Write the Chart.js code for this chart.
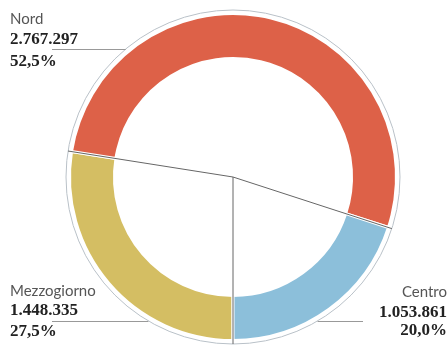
<!DOCTYPE html>
<html>
<head>
<meta charset="utf-8">
<script src="https://cdn.jsdelivr.net/npm/chart.js@4/dist/chart.umd.min.js"></script>
<style>
  html, body { margin: 0; padding: 0; background: #fff; }
  canvas { display: block; }
</style>
</head>
<body>
<canvas id="ring" width="448" height="345"></canvas>
<script>
// order follows the ring clockwise from the bottom
const areas = ['Mezzogiorno', 'Nord', 'Centro']
const counts = [1448335, 2767297, 1053861]
const shares = [27.5, 52.5, 20.0]
const colors = ['#d4be63', '#dd6148', '#8cbfda']

// label blocks: anchor x, alignment, y of the three lines, y of the leader line
const labelPos = [
  {x: 10, align: 'left', ys: [291, 311, 332], lineY: 321},
  {x: 10, align: 'left', ys: [19, 40, 62], lineY: 49},
  {x: 447, align: 'right', ys: [292, 313, 331], lineY: 321}
]

function fmtInt(n) {
  return String(n).replace(/\B(?=(\d{3})+(?!\d))/g, '.')
}
function fmtPct(p) {
  return p.toFixed(1).replace('.', ',') + '%'
}

const ringDecor = {
  id: 'ringDecor',
  beforeDatasetsDraw(chart) {
    const arc = chart.getDatasetMeta(0).data[0]
    const ctx = chart.ctx
    ctx.save()
    ctx.strokeStyle = '#b9c1c8'
    ctx.lineWidth = 1
    ctx.beginPath()
    ctx.arc(arc.x, arc.y, arc.outerRadius + 3.5, 0, Math.PI * 2)
    ctx.stroke()
    ctx.restore()
  },
  afterDatasetsDraw(chart) {
    const meta = chart.getDatasetMeta(0)
    const ctx = chart.ctx
    const cx = meta.data[0].x, cy = meta.data[0].y
    const rOut = meta.data[0].outerRadius + 3.5
    ctx.save()
    // spokes from the centre along each boundary
    ctx.strokeStyle = '#666'
    ctx.lineWidth = 1
    meta.data.forEach(a => {
      ctx.beginPath()
      ctx.moveTo(cx, cy)
      ctx.lineTo(cx + rOut * Math.cos(a.startAngle), cy + rOut * Math.sin(a.startAngle))
      ctx.stroke()
    })
    // leader lines and labels
    ctx.strokeStyle = '#999'
    labelPos.forEach((p, i) => {
      const dy = p.lineY - cy
      const dx = Math.sqrt(Math.max(rOut * rOut - dy * dy, 0))
      const edgeX = p.align === 'left' ? cx - dx : cx + dx
      const startX = p.align === 'left' ? p.x + 42 : p.x - 84
      ctx.beginPath()
      ctx.moveTo(startX, p.lineY + 0.5)
      ctx.lineTo(edgeX, p.lineY + 0.5)
      ctx.stroke()

      ctx.textAlign = p.align
      ctx.textBaseline = 'middle'
      ctx.fillStyle = '#555'
      ctx.font = '15px Lato'
      ctx.fillText(areas[i], p.x, p.ys[0])
      ctx.fillStyle = '#222'
      ctx.font = 'bold 17px "Liberation Serif"'
      ctx.fillText(fmtInt(counts[i]), p.x, p.ys[1])
      ctx.fillText(fmtPct(shares[i]), p.x, p.ys[2])
    })
    ctx.restore()
  }
}

new Chart(document.getElementById('ring'), {
  type: 'doughnut',
  data: {
    labels: areas,
    datasets: [{
      data: counts,
      backgroundColor: colors,
      borderColor: '#ffffff',
      borderWidth: 3,
      hoverOffset: 0
    }]
  },
  options: {
    responsive: false,
    animation: false,
    rotation: 180,
    cutout: '72.5%',
    layout: {
      padding: {left: 68, right: 50, top: 12, bottom: 3}
    },
    plugins: {
      legend: {display: false},
      tooltip: {enabled: false}
    }
  },
  plugins: [ringDecor]
})
</script>
</body>
</html>
